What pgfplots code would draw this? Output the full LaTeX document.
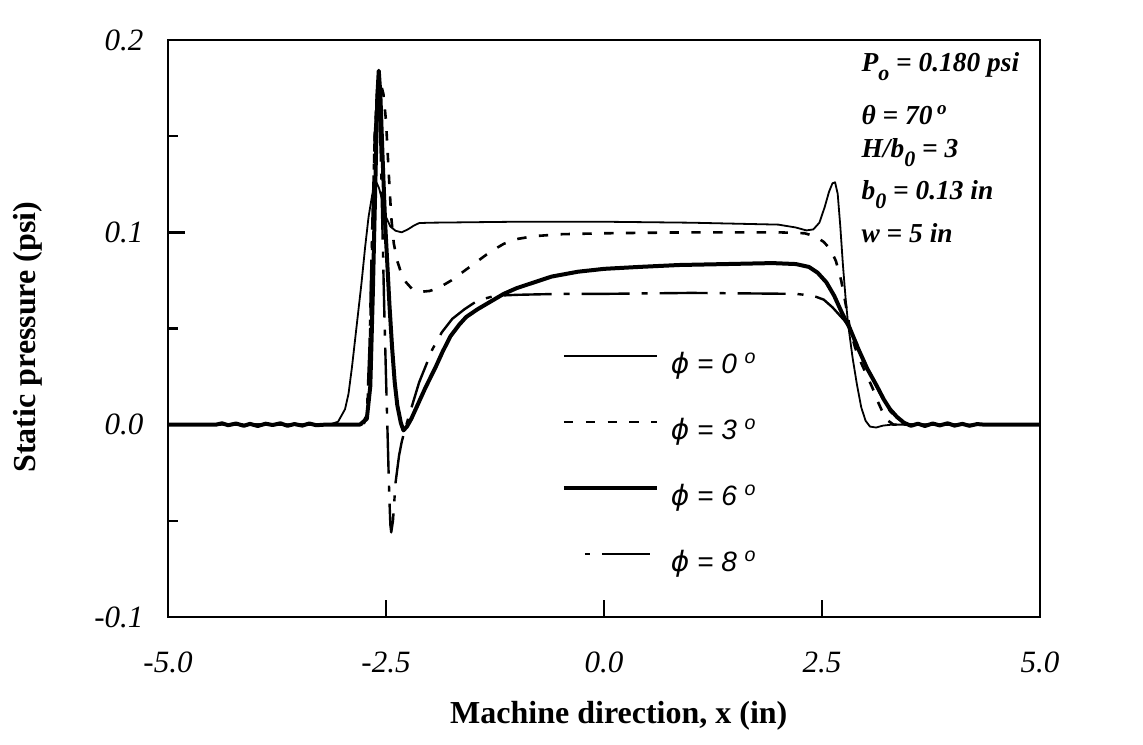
\documentclass[border=0pt]{standalone}
\usepackage{pgfplots}
\pgfplotsset{compat=1.18}
\usepackage{fontspec}
\setmainfont{Liberation Serif}
\newfontfamily\legfont{Liberation Sans}
\newfontfamily\djfont{DejaVu Sans}
\newcommand\sub[1]{\raisebox{-4.5pt}{\fontsize{11}{11}\selectfont #1}}
\newcommand\phisym{{\djfont\itshape ϕ}}
\pgfplotsset{phieightleg/.style={legend image code/.code={\draw[##1, dash pattern=on 2.5pt off 6pt on 24pt off 6pt] (10.5pt,9pt) -- (43pt,9pt);}}}
\begin{document}
\begin{tikzpicture}
\begin{axis}[name=ax, scale only axis, width=436pt, height=288.5pt,
  xmin=-5, xmax=5, ymin=-0.1, ymax=0.2,
  axis line style={line width=1.4pt},
  xtick={-5,-2.5,0,2.5,5}, xticklabels={{-5.0},{-2.5},{0.0},{2.5},{5.0}},
  ytick={-0.1,0,0.1,0.2}, yticklabels={{-0.1},{0.0},{0.1},{0.2}},
  minor ytick={-0.05,0.05,0.15},
  xtick pos=left, ytick pos=left, tick align=inside,
  major tick length=8.5pt, minor tick length=5pt,
  tick style={line width=1.2pt, black},
  xticklabel style={font=\fontsize{15.5}{18}\selectfont\itshape, yshift=-13.8pt},
  yticklabel style={font=\fontsize{15.5}{18}\selectfont\itshape, xshift=-8.8pt},
  xlabel={Machine direction, x (in)},
  ylabel={Static pressure (psi)},
  xlabel style={font=\fontsize{16}{19}\selectfont\bfseries, at={(axis description cs:0.517,-0.1854)}, anchor=base},
  ylabel style={font=\fontsize{16}{19}\selectfont\bfseries, at={(axis description cs:-0.1606,0.485)}, anchor=center},
  legend style={draw=none, fill=none, at={(axis description cs:0.4518,0.4558)}, anchor=north west,
    inner sep=0pt, outer sep=0pt, row sep=20pt, column sep=6pt,
    font={\legfont\itshape\fontsize{14}{16}\selectfont},
    nodes={inner sep=0pt, text height=10pt, text depth=3pt},
    cells={anchor=base west}},
  legend image code/.code={\draw[#1] (0pt,9pt) -- (46.5pt,9pt);},
  every axis plot/.append style={line join=round, black},
]
% phi = 0
\addplot[line width=0.9pt] coordinates {
(-5,0) (-3.15,0) (-3.05,0.0015) (-2.97,0.008) (-2.93,0.016) (-2.89,0.030) (-2.84,0.050) (-2.78,0.074)
(-2.74,0.092) (-2.70,0.108) (-2.66,0.119) (-2.63,0.125) (-2.61,0.126) (-2.58,0.123)
(-2.54,0.116) (-2.50,0.108) (-2.45,0.103) (-2.39,0.1008) (-2.32,0.100) (-2.25,0.1015) (-2.18,0.1035)
(-2.12,0.1048) (-2.0,0.105) (-1.0,0.1055) (0,0.1055) (1.0,0.105) (2.0,0.104) (2.2,0.1025) (2.32,0.101)
(2.40,0.1015) (2.47,0.105) (2.53,0.113) (2.58,0.121) (2.62,0.1255) (2.65,0.126) (2.68,0.120)
(2.71,0.103) (2.74,0.083) (2.77,0.066) (2.80,0.052) (2.85,0.035) (2.90,0.021) (2.95,0.009)
(3.00,0.002) (3.05,-0.001) (3.12,-0.0015) (3.20,-0.0005) (3.30,0) (5,0)};
\addlegendentry{\phisym\ =\ 0\ \textsuperscript{o}}
% phi = 3
\addplot[line width=1.3pt, dash pattern=on 4.7pt off 6.2pt] coordinates {
(-5,0) (-2.76,0) (-2.72,0.004) (-2.69,0.03) (-2.66,0.09) (-2.63,0.15) (-2.60,0.174) (-2.565,0.178)
(-2.53,0.172) (-2.50,0.158) (-2.47,0.132) (-2.44,0.108) (-2.41,0.094) (-2.37,0.085) (-2.32,0.078)
(-2.27,0.074) (-2.20,0.0705) (-2.12,0.069) (-2.0,0.0695) (-1.9,0.071) (-1.75,0.075) (-1.6,0.080) (-1.45,0.085)
(-1.3,0.090) (-1.15,0.094) (-1.0,0.0965) (-0.8,0.098) (-0.5,0.099) (0,0.0995) (1.0,0.100) (2.0,0.100)
(2.30,0.0995) (2.42,0.098) (2.52,0.095) (2.60,0.091) (2.66,0.085) (2.72,0.075) (2.77,0.063)
(2.82,0.050) (2.88,0.040) (2.95,0.032) (3.02,0.025) (3.08,0.019) (3.14,0.012) (3.20,0.006)
(3.26,0.002) (3.32,0) (5,0)};
\addlegendentry{\phisym\ =\ 3\ \textsuperscript{o}}
% phi = 6
\addplot[line width=2pt] coordinates {
(-5,0) (-4.45,0) (-4.38,0.0007) (-4.31,-0.0003) (-4.22,0.0006) (-4.13,-0.0006) (-4.06,0.0004) (-3.97,-0.0007)
(-3.88,0.0005) (-3.80,-0.0002) (-3.71,0.0007) (-3.63,-0.0006) (-3.55,0.0003) (-3.46,-0.0005) (-3.38,0.0006)
(-3.30,-0.0003) (-3.2,0) (-2.80,0) (-2.72,0.003) (-2.68,0.02) (-2.65,0.07) (-2.62,0.13) (-2.60,0.17)
(-2.583,0.184) (-2.565,0.172) (-2.54,0.14) (-2.51,0.105) (-2.49,0.088) (-2.46,0.062) (-2.43,0.040)
(-2.40,0.022) (-2.37,0.010) (-2.33,0.001) (-2.30,-0.003) (-2.26,-0.001) (-2.21,0.003) (-2.16,0.008)
(-2.05,0.019) (-1.93,0.030) (-1.85,0.038) (-1.76,0.046) (-1.66,0.052) (-1.58,0.056) (-1.45,0.060)
(-1.30,0.064) (-1.15,0.068) (-1.0,0.071) (-0.8,0.074) (-0.6,0.077) (-0.3,0.0795) (0,0.081) (0.4,0.082)
(0.86,0.083) (1.4,0.0835) (1.93,0.084) (2.2,0.0835) (2.35,0.082) (2.45,0.079) (2.55,0.074)
(2.64,0.067) (2.73,0.058) (2.82,0.050) (2.92,0.039) (3.02,0.029) (3.13,0.020) (3.21,0.013)
(3.28,0.008) (3.36,0.004) (3.44,0.001) (3.52,-0.0006) (3.60,0.0005) (3.68,-0.0007) (3.77,0.0006)
(3.85,-0.0004) (3.94,0.0007) (4.02,-0.0005) (4.11,0.0004) (4.19,-0.0006) (4.28,0.0003) (4.36,0) (5,0)};
\addlegendentry{\phisym\ =\ 6\ \textsuperscript{o}}
% phi = 8
\addplot[line width=1.2pt, dash pattern=on 24pt off 6pt on 3pt off 6pt, phieightleg] coordinates {
(-5,0) (-2.78,0) (-2.72,0.005) (-2.69,0.04) (-2.66,0.10) (-2.63,0.150) (-2.60,0.172) (-2.58,0.168)
(-2.56,0.14) (-2.54,0.10) (-2.52,0.06) (-2.50,0.025) (-2.48,-0.008) (-2.47,-0.025) (-2.46,-0.040)
(-2.45,-0.052) (-2.44,-0.056) (-2.42,-0.050) (-2.39,-0.030) (-2.35,-0.016) (-2.32,-0.009)
(-2.28,-0.002) (-2.24,0.004) (-2.18,0.013) (-2.12,0.022) (-2.04,0.031) (-1.97,0.039) (-1.86,0.048)
(-1.74,0.055) (-1.60,0.060) (-1.45,0.0645) (-1.25,0.067) (-1.0,0.0675) (-0.5,0.068) (0,0.068)
(1.0,0.0685) (2.2,0.068) (2.4,0.067) (2.52,0.065) (2.62,0.061) (2.70,0.057) (2.76,0.054)
(2.82,0.050) (2.92,0.040) (3.00,0.031) (3.10,0.022) (3.19,0.014) (3.28,0.007) (3.37,0.003)
(3.45,0) (5,0)};
\addlegendentry{\phisym\ =\ 8\ \textsuperscript{o}}
% annotations
\begin{scope}[every node/.style={anchor=base west, inner sep=0pt, font=\fontsize{13.7}{16}\selectfont\bfseries\itshape}]
\node at (axis cs:2.95,0.1836) {P\sub{o} = 0.180 psi};
\node at (axis cs:2.95,0.1560) {θ = 70\,\textsuperscript{o}};
\node at (axis cs:2.95,0.1388) {H/b\sub{0} = 3};
\node at (axis cs:2.95,0.1170) {b\sub{0} = 0.13 in};
\node at (axis cs:2.95,0.0946) {w = 5 in};
\end{scope}
\end{axis}
\path ([shift={(-84pt,-64pt)}]ax.south west) rectangle ([shift={(51.5pt,20pt)}]ax.north east);
\end{tikzpicture}
\end{document}
